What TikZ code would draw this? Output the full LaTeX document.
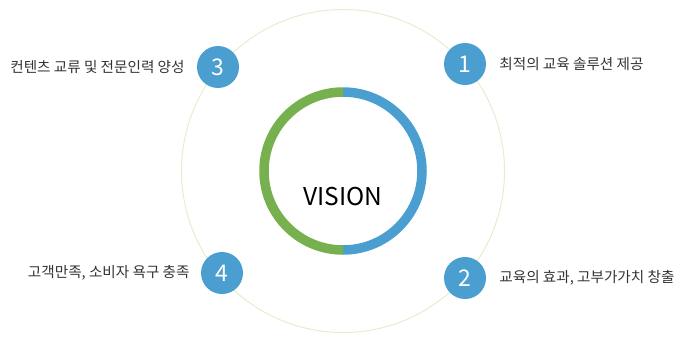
\documentclass[tikz,border=0pt]{standalone}
\usepackage{fontspec}
\setmainfont{Noto Sans CJK KR}
\usepackage{xcolor}
\usetikzlibrary{positioning}
\definecolor{visionblue}{HTML}{4A9FD0}
\definecolor{visiongreen}{HTML}{77B04E}
\definecolor{orbit}{HTML}{E9EBCF}
\definecolor{txtgray}{HTML}{333333}
\tikzset{
  num/.style={circle,fill=visionblue,text=white,minimum size=42pt,inner sep=0pt,font=\fontsize{23}{23}\selectfont},
  goal/.style={text=txtgray,inner sep=1pt,font=\fontsize{14.6}{16}\selectfont}
}

\begin{document}
\begin{tikzpicture}[x=1pt,y=-1pt]
\useasboundingbox(0,0)rectangle(685,341);
\draw[orbit,line width=1pt](343,171)circle[radius=161.5pt];
\draw[visionblue,line width=9.5pt](343,171)++(0,-79)arc[start angle=90,end angle=-90,radius=79pt];
\draw[visiongreen,line width=9.5pt](343,171)++(0,-79)arc[start angle=90,end angle=270,radius=79pt];
\node[font=\fontsize{24.5}{25}\selectfont](vision)at(343,197){VISION};
% numbered goals
\node[num](n1)at(465,64){1};
\node[num](n2)at(465,278){2};
\node[num](n3)at(218,67){3};
\node[num](n4)at(222,273){4};
\node[goal,right=12pt of n1](t1){최적의 교육 솔루션 제공};
\node[goal,right=12pt of n2](t2){교육의 효과, 고부가가치 창출};
\node[goal,left=11pt of n3](t3){컨텐츠 교류 및 전문인력 양성};
\node[goal,left=10pt of n4](t4){고객만족, 소비자 욕구 충족};
\end{tikzpicture}
\end{document}
